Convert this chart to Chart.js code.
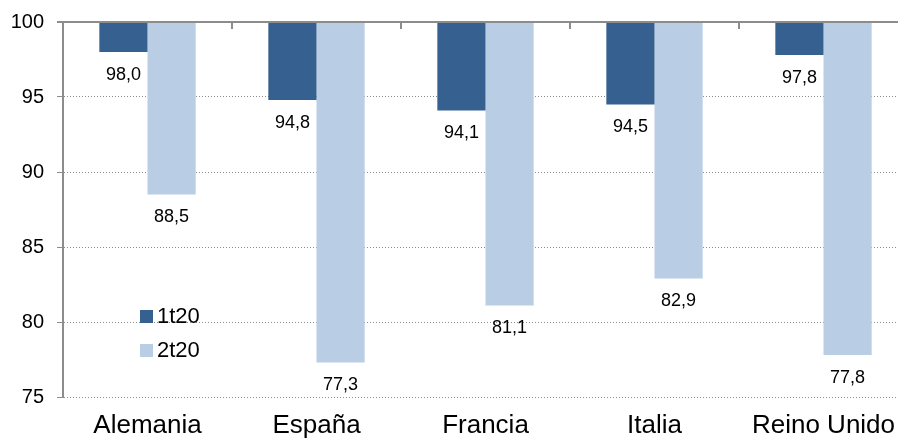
<!DOCTYPE html>
<html>
<head>
<meta charset="utf-8">
<script src="https://cdn.jsdelivr.net/npm/chart.js@4"></script>
<style>
  html, body { margin: 0; padding: 0; background: #fff; overflow: hidden; }
  #wrap { width: 898px; height: 439px; overflow: hidden; }
  #myChart { display: block; margin-top: -3px; }
</style>
</head>
<body>
<div id="wrap"><canvas id="myChart" width="908" height="442"></canvas></div>
<script>
const countries = ["Alemania", "España", "Francia", "Italia", "Reino Unido"];
const q1Values = [98.0, 94.8, 94.1, 94.5, 97.8];
const q2Values = [88.5, 77.3, 81.1, 82.9, 77.8];
const seriesNames = ["1t20", "2t20"];
const yTicks = [75, 80, 85, 90, 95, 100];

const darkBlue = "#35608f";
const lightBlue = "#b9cde5";
const axisGrey = "#8c8c8c";
const fontFamily = "'Liberation Sans', Arial, sans-serif";

// value labels under the end of each bar, with decimal comma
const barLabels = {
  id: "barLabels",
  afterDatasetsDraw(chart) {
    const ctx = chart.ctx;
    ctx.save();
    ctx.font = "18px " + fontFamily;
    ctx.fillStyle = "#000";
    ctx.textAlign = "center";
    ctx.textBaseline = "middle";
    chart.data.datasets.forEach((ds, i) => {
      chart.getDatasetMeta(i).data.forEach((bar, j) => {
        ctx.fillText(ds.data[j].toFixed(1).replace(".", ","), bar.x, bar.y + 23);
      });
    });
    ctx.restore();
  }
};

// top axis line (the 100 base) with tick marks between categories
const topAxis = {
  id: "topAxis",
  afterDraw(chart) {
    const ctx = chart.ctx;
    const area = chart.chartArea;
    const y = chart.scales.y.getPixelForValue(100);
    ctx.save();
    ctx.strokeStyle = axisGrey;
    ctx.lineWidth = 2;
    ctx.beginPath();
    ctx.moveTo(area.left - 6, y);
    ctx.lineTo(chart.width, y);
    const step = (area.right - area.left) / countries.length;
    for (let i = 1; i < countries.length; i++) {
      const x = Math.round(area.left + i * step);
      ctx.moveTo(x, y);
      ctx.lineTo(x, y + 7);
    }
    ctx.stroke();
    ctx.restore();
  }
};

// legend drawn inside the plot, lower left
const innerLegend = {
  id: "innerLegend",
  afterDraw(chart) {
    const ctx = chart.ctx;
    const rows = [319, 353];
    ctx.save();
    ctx.font = "22px " + fontFamily;
    ctx.textBaseline = "middle";
    ctx.textAlign = "left";
    chart.data.datasets.forEach((ds, i) => {
      ctx.fillStyle = ds.backgroundColor;
      ctx.fillRect(140, rows[i] - 6, 13, 13);
      ctx.fillStyle = "#000";
      ctx.fillText(ds.label, 157, rows[i] + 1);
    });
    ctx.restore();
  }
};

const ctx = document.getElementById("myChart").getContext("2d");
const chart = new Chart(ctx, {
  type: "bar",
  data: {
    labels: countries,
    datasets: [
      { label: seriesNames[0], data: q1Values, backgroundColor: darkBlue, base: 100 },
      { label: seriesNames[1], data: q2Values, backgroundColor: lightBlue, base: 100 }
    ]
  },
  options: {
    responsive: false,
    animation: false,
    layout: { padding: { top: 6, right: 0, left: 0, bottom: 0 } },
    datasets: {
      bar: { categoryPercentage: 0.57, barPercentage: 1.0 }
    },
    plugins: {
      legend: { display: false },
      tooltip: { enabled: false }
    },
    scales: {
      x: {
        afterFit(scale) {
          scale.height = 42;
        },
        grid: { display: false },
        border: { display: false },
        ticks: {
          color: "#000",
          padding: 5,
          font: { family: fontFamily, size: 26 }
        }
      },
      y: {
        min: 75,
        max: 100,
        afterFit(scale) {
          scale.width = 63;
        },
        afterBuildTicks(scale) {
          scale.ticks = yTicks.map(v => ({ value: v }));
        },
        grid: {
          color: axisGrey,
          lineWidth: 1,
          tickLength: 6,
          tickColor: axisGrey
        },
        border: {
          display: true,
          color: axisGrey,
          width: 2,
          dash: [1, 2]
        },
        ticks: {
          color: "#000",
          padding: 13,
          font: { family: fontFamily, size: 20 }
        }
      }
    }
  },
  plugins: [barLabels, topAxis, innerLegend]
});
</script>
</body>
</html>
